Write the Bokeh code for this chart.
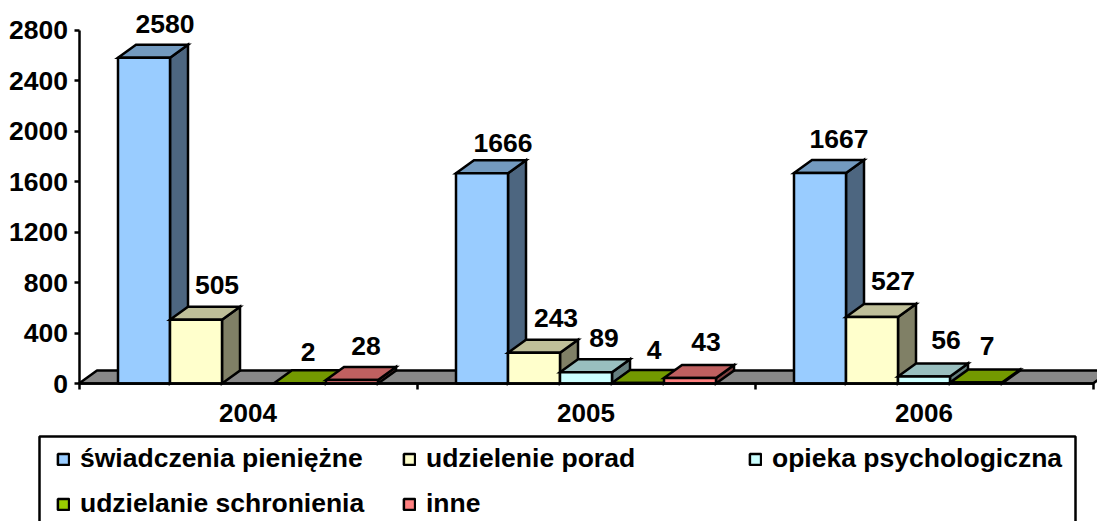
from bokeh.plotting import figure
from bokeh.embed import file_html
from bokeh.resources import INLINE
from bokeh.models import (ColumnDataSource, FixedTicker, Range1d, Legend, LegendItem,
                          BoxAnnotation, LinearAxis)
from bokeh.core.properties import value

years = ["2004", "2005", "2006"]
series_names = ["świadczenia pieniężne", "udzielenie porad", "opieka psychologiczna",
                "udzielanie schronienia", "inne"]
swiadczenia = [2580, 1666, 1667]
porady = [505, 243, 527]
opieka = [None, 89, 56]
schronienie = [2, 4, 7]
inne = [28, 43, None]
y_ticks = [0, 400, 800, 1200, 1600, 2000, 2400, 2800]

series = [swiadczenia, porady, opieka, schronienie, inne]
front = ["#99CCFF", "#FFFFCC", "#CCFFFF", "#99CC00", "#FF8080"]
top_c = ["#739ABF", "#BFBF99", "#99BFBF", "#739900", "#BF6060"]
side_c = ["#4D6680", "#808066", "#668080", "#4D6600", "#804040"]

# value-label nudges in pixels, relative to the bar centre / bar top
nudge_x = [[21, 21, 0, 8, 14], [21, 22, 18, 16, 16], [19, 21, 22, 11, 0]]
nudge_y = [[34, 35, 0, 31, 34], [30, 35, 34, 33, 36], [34, 36, 36, 37, 0]]

FONT = "Liberation Sans"
FS = "26.5px"
W, H = 1097, 521
BW = 52 / 338          # bar width, in group units
DX = 18 / 338          # 3-D depth, in group units
PX_Y = 2800 / 353.5    # value units per pixel
DY = 13 * PX_Y         # 3-D depth, in value units
LINE = 2.5

p = figure(width=W, height=H, output_backend="svg", toolbar_location=None,
           x_range=Range1d(-78.5 / 338, 1018.5 / 338), y_range=Range1d(-138 * PX_Y, 383 * PX_Y),
           x_axis_type=None, y_axis_type=None,
           min_border_left=0, min_border_right=0, min_border_top=0, min_border_bottom=0)
p.outline_line_color = None
p.grid.visible = False
p.background_fill_color = "white"

# floor
p.patch([0, 3, 3 + DX, DX], [0, 0, DY, DY], fill_color="#888888", line_color="black", line_width=LINE)

legend_items = []
for s, vals in enumerate(series):
    xs_l, tops = [], []
    for g, v in enumerate(vals):
        if v is not None:
            xs_l.append(g + 0.5 + (s - 2) * BW)
            tops.append(v)
    t_x, t_y, s_x, s_y = [], [], [], []
    for xc, v in zip(xs_l, tops):
        x0, x1 = xc - BW / 2, xc + BW / 2
        t_x.append([x0, x1, x1 + DX, x0 + DX]); t_y.append([v, v, v + DY, v + DY])
        s_x.append([x1, x1 + DX, x1 + DX, x1]); s_y.append([0, DY, v + DY, v])
    p.patches(s_x, s_y, fill_color=side_c[s], line_color="black", line_width=LINE, line_join="miter")
    p.patches(t_x, t_y, fill_color=top_c[s], line_color="black", line_width=LINE, line_join="miter")
    r = p.vbar(x=xs_l, top=tops, bottom=0, width=BW, fill_color=front[s], line_color="black", line_width=LINE)
    legend_items.append(LegendItem(label=series_names[s], renderers=[r]))

# value labels
lx, ly, lt, ox, oy = [], [], [], [], []
for g in range(3):
    for s, vals in enumerate(series):
        v = vals[g]
        if v is None:
            continue
        lx.append(g + 0.5 + (s - 2) * BW); ly.append(v); lt.append(str(v))
        ox.append(nudge_x[g][s]); oy.append(-nudge_y[g][s])
p.text(x="x", y="y", text="t", x_offset="ox", y_offset="oy",
       source=ColumnDataSource(dict(x=lx, y=ly, t=lt, ox=ox, oy=oy)),
       text_font=value(FONT), text_font_style="bold", text_font_size=FS,
       text_align="center", text_baseline="middle", text_color="black")

# axes (pinned at zero inside the full-canvas frame)
ya = LinearAxis(ticker=FixedTicker(ticks=y_ticks), bounds=(0, 2800), fixed_location=0)
ya.axis_line_width = LINE; ya.major_tick_line_width = LINE
ya.major_tick_out = 5; ya.major_tick_in = 0; ya.minor_tick_line_color = None
ya.major_label_text_font = FONT; ya.major_label_text_font_style = "bold"
ya.major_label_text_font_size = FS; ya.major_label_text_color = "black"
ya.major_label_standoff = 6
p.add_layout(ya, "left")

xa = LinearAxis(ticker=FixedTicker(ticks=[0.5, 1.5, 2.5], minor_ticks=[0, 1, 2, 3]),
                major_label_overrides={0.5: years[0], 1.5: years[1], 2.5: years[2]},
                fixed_location=0, bounds=(0, 3))
xa.axis_line_width = LINE
xa.major_tick_line_color = None; xa.major_tick_out = 0; xa.major_tick_in = 0
xa.minor_tick_out = 6; xa.minor_tick_in = 0; xa.minor_tick_line_width = LINE
xa.major_label_text_font = FONT; xa.major_label_text_font_style = "bold"
xa.major_label_text_font_size = "26px"; xa.major_label_text_color = "black"
xa.major_label_standoff = 14
p.add_layout(xa, "below")

# legend frame and legend
box = BoxAnnotation(left=39, right=1075, top=436, bottom=548,
                    left_units="canvas", right_units="canvas", top_units="canvas", bottom_units="canvas",
                    fill_color="white", fill_alpha=1, line_color="black", line_alpha=1, line_width=LINE)
p.add_layout(box)
# the legend fills column by column, so this order reads row by row as in the chart
by_rows = [legend_items[i] for i in (0, 3, 1, 4, 2)]
leg = Legend(items=by_rows, ncols=3, location=(56, 2), orientation="vertical",
             border_line_color=None, background_fill_alpha=0,
             glyph_width=14, glyph_height=14, label_standoff=10, spacing=14, padding=0, margin=0,
             label_width=308, label_text_font=FONT, label_text_font_style="bold",
             label_text_font_size=FS, label_text_color="black")
p.add_layout(leg)

open("out.html", "w").write(file_html(p, INLINE))
